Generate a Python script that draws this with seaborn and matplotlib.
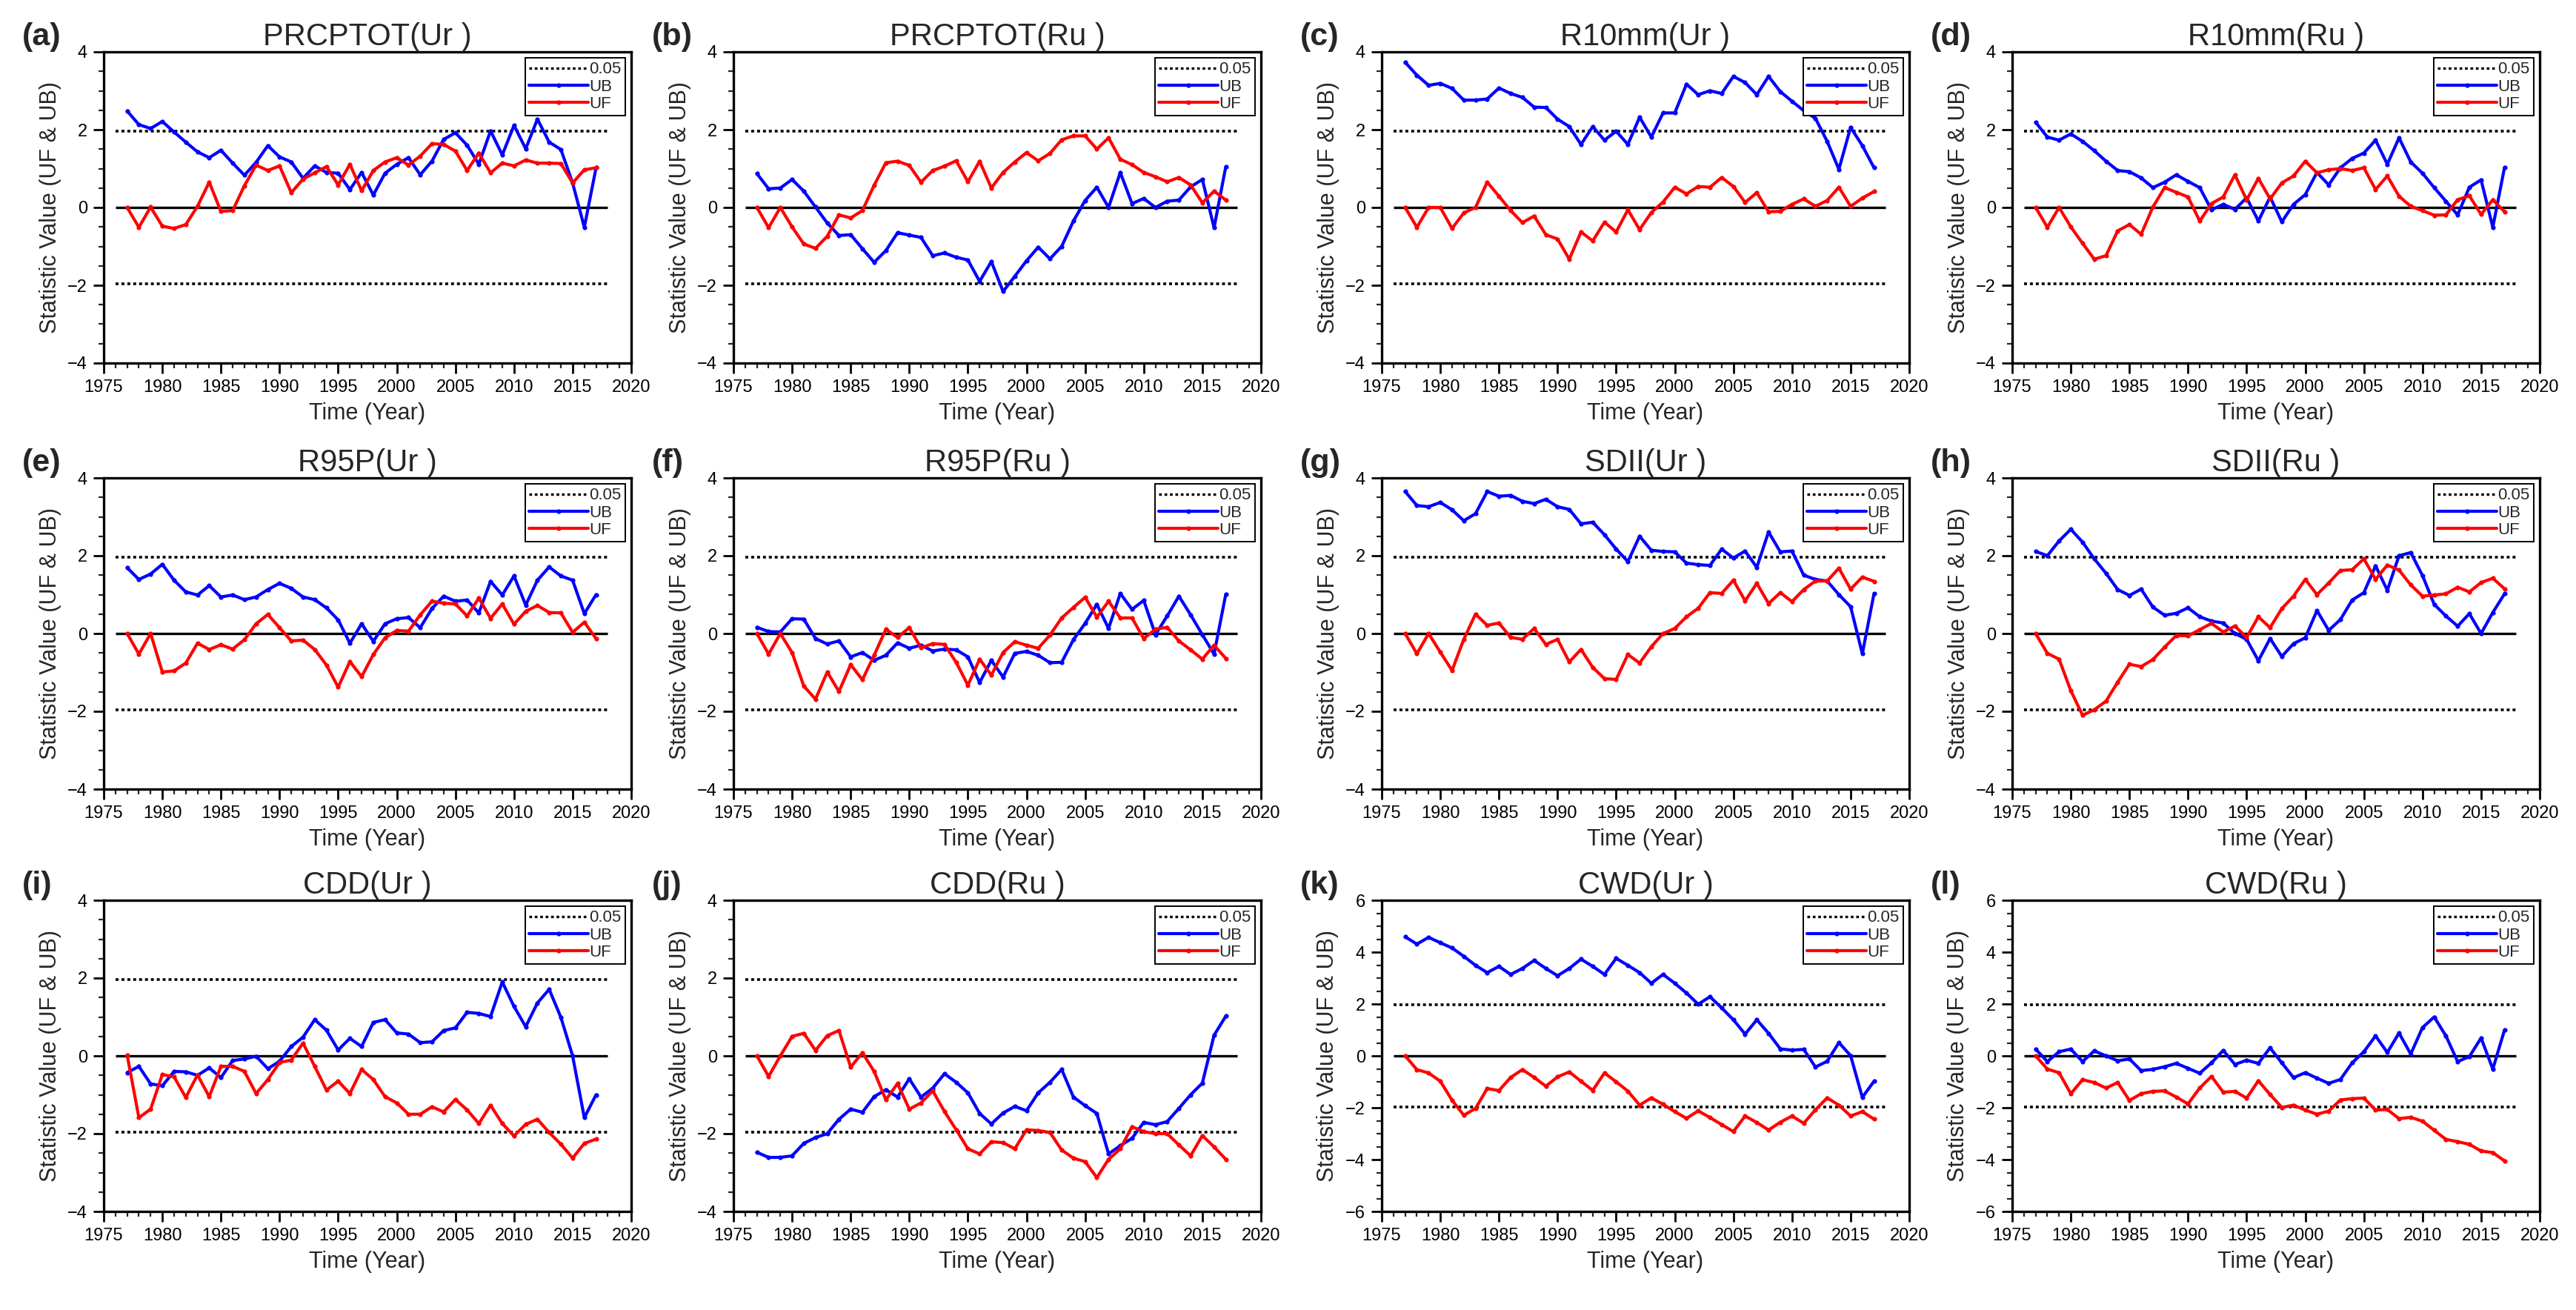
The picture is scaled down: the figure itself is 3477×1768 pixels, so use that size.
import numpy as np
import pandas as pd
import matplotlib
matplotlib.use("Agg")
import matplotlib.pyplot as plt
from matplotlib.lines import Line2D
from matplotlib.ticker import MultipleLocator
import seaborn as sns

years = list(range(1977, 2018))

ub_a = [2.48, 2.13, 2.03, 2.21, 1.94, 1.68, 1.43, 1.28, 1.47, 1.14, 0.83, 1.16, 1.59, 1.30, 1.17, 0.75, 1.07, 0.90, 0.88, 0.46, 0.90, 0.32, 0.88, 1.11, 1.28, 0.84, 1.19, 1.75, 1.92, 1.60, 1.11, 1.97, 1.35, 2.11, 1.51, 2.27, 1.68, 1.49, 0.63, -0.51, 1.02]
uf_a = [0.00, -0.51, 0.01, -0.48, -0.54, -0.44, 0.03, 0.65, -0.10, -0.08, 0.56, 1.09, 0.95, 1.07, 0.38, 0.73, 0.89, 1.05, 0.58, 1.11, 0.43, 0.95, 1.17, 1.28, 1.09, 1.32, 1.64, 1.62, 1.45, 0.95, 1.40, 0.89, 1.14, 1.07, 1.22, 1.14, 1.14, 1.13, 0.63, 0.97, 1.02]

ub_b = [0.87, 0.48, 0.50, 0.72, 0.42, 0.01, -0.40, -0.72, -0.70, -1.06, -1.41, -1.11, -0.65, -0.71, -0.77, -1.24, -1.17, -1.28, -1.35, -1.90, -1.39, -2.16, -1.77, -1.37, -1.02, -1.32, -1.00, -0.35, 0.18, 0.52, 0.00, 0.90, 0.10, 0.23, 0.00, 0.16, 0.19, 0.53, 0.72, -0.52, 1.05]
uf_b = [0.00, -0.52, 0.00, -0.50, -0.94, -1.05, -0.74, -0.19, -0.27, -0.08, 0.57, 1.15, 1.19, 1.08, 0.65, 0.95, 1.06, 1.20, 0.66, 1.19, 0.50, 0.90, 1.17, 1.41, 1.20, 1.39, 1.74, 1.84, 1.84, 1.50, 1.79, 1.24, 1.10, 0.90, 0.79, 0.66, 0.77, 0.58, 0.12, 0.42, 0.19]

ub_c = [3.73, 3.40, 3.14, 3.19, 3.06, 2.76, 2.76, 2.79, 3.07, 2.93, 2.83, 2.58, 2.57, 2.27, 2.08, 1.62, 2.08, 1.73, 1.96, 1.62, 2.32, 1.81, 2.43, 2.43, 3.17, 2.90, 3.00, 2.93, 3.37, 3.21, 2.90, 3.37, 2.98, 2.73, 2.49, 2.29, 1.70, 0.98, 2.06, 1.59, 1.02]
uf_c = [0.00, -0.51, 0.00, 0.00, -0.54, -0.14, 0.00, 0.65, 0.29, -0.08, -0.39, -0.22, -0.70, -0.81, -1.33, -0.63, -0.86, -0.38, -0.63, -0.06, -0.57, -0.13, 0.14, 0.52, 0.35, 0.54, 0.52, 0.77, 0.54, 0.13, 0.38, -0.11, -0.10, 0.08, 0.22, 0.03, 0.18, 0.52, 0.03, 0.24, 0.41]

ub_d = [2.19, 1.81, 1.73, 1.89, 1.70, 1.46, 1.19, 0.95, 0.92, 0.76, 0.51, 0.65, 0.84, 0.67, 0.51, -0.06, 0.08, -0.05, 0.25, -0.35, 0.27, -0.37, 0.08, 0.33, 0.90, 0.58, 1.02, 1.26, 1.40, 1.73, 1.11, 1.79, 1.17, 0.88, 0.51, 0.16, -0.19, 0.52, 0.71, -0.51, 1.03]
uf_d = [0.00, -0.51, 0.00, -0.50, -0.92, -1.33, -1.24, -0.60, -0.44, -0.69, 0.01, 0.51, 0.39, 0.27, -0.35, 0.10, 0.27, 0.84, 0.19, 0.75, 0.22, 0.63, 0.81, 1.19, 0.89, 0.97, 1.00, 0.95, 1.02, 0.46, 0.81, 0.29, 0.03, -0.08, -0.20, -0.19, 0.20, 0.30, -0.18, 0.20, -0.11]

ub_e = [1.69, 1.39, 1.53, 1.78, 1.37, 1.07, 0.99, 1.23, 0.94, 0.99, 0.87, 0.94, 1.13, 1.29, 1.16, 0.94, 0.87, 0.66, 0.35, -0.25, 0.25, -0.20, 0.25, 0.38, 0.41, 0.15, 0.64, 0.96, 0.83, 0.86, 0.53, 1.34, 0.99, 1.48, 0.73, 1.37, 1.71, 1.48, 1.37, 0.51, 1.00]
uf_e = [0.00, -0.53, 0.00, -0.99, -0.96, -0.76, -0.25, -0.41, -0.29, -0.40, -0.16, 0.25, 0.49, 0.15, -0.19, -0.17, -0.41, -0.81, -1.38, -0.72, -1.11, -0.54, -0.11, 0.08, 0.06, 0.48, 0.83, 0.78, 0.76, 0.45, 0.91, 0.39, 0.76, 0.24, 0.57, 0.72, 0.54, 0.53, 0.03, 0.29, -0.13]

ub_f = [0.16, 0.05, 0.04, 0.38, 0.37, -0.13, -0.27, -0.19, -0.60, -0.49, -0.69, -0.56, -0.24, -0.38, -0.30, -0.45, -0.40, -0.42, -0.60, -1.26, -0.69, -1.12, -0.51, -0.46, -0.56, -0.75, -0.74, -0.16, 0.26, 0.75, 0.13, 1.03, 0.62, 0.85, -0.03, 0.45, 0.96, 0.48, -0.03, -0.53, 1.01]
uf_f = [0.00, -0.53, 0.00, -0.49, -1.35, -1.69, -0.99, -1.49, -0.80, -1.19, -0.56, 0.11, -0.10, 0.15, -0.37, -0.26, -0.28, -0.74, -1.33, -0.66, -1.07, -0.49, -0.21, -0.30, -0.38, -0.04, 0.40, 0.67, 0.93, 0.42, 0.83, 0.40, 0.40, -0.13, 0.11, 0.16, -0.19, -0.42, -0.66, -0.30, -0.64]

ub_g = [3.65, 3.29, 3.26, 3.37, 3.18, 2.90, 3.08, 3.65, 3.53, 3.55, 3.40, 3.34, 3.45, 3.26, 3.19, 2.82, 2.86, 2.54, 2.17, 1.85, 2.50, 2.14, 2.11, 2.10, 1.81, 1.77, 1.75, 2.17, 1.94, 2.12, 1.70, 2.61, 2.10, 2.12, 1.50, 1.39, 1.35, 1.00, 0.69, -0.52, 1.03]
uf_g = [0.00, -0.52, 0.00, -0.48, -0.95, -0.15, 0.50, 0.21, 0.27, -0.10, -0.15, 0.13, -0.28, -0.15, -0.73, -0.41, -0.87, -1.16, -1.18, -0.54, -0.76, -0.34, 0.00, 0.13, 0.43, 0.65, 1.05, 1.03, 1.37, 0.84, 1.29, 0.77, 1.05, 0.82, 1.13, 1.35, 1.35, 1.68, 1.14, 1.45, 1.34]

ub_h = [2.11, 2.00, 2.38, 2.68, 2.35, 1.92, 1.55, 1.13, 0.98, 1.14, 0.68, 0.47, 0.52, 0.66, 0.43, 0.32, 0.27, 0.00, -0.15, -0.70, -0.13, -0.59, -0.26, -0.11, 0.59, 0.08, 0.36, 0.86, 1.05, 1.74, 1.11, 2.00, 2.08, 1.49, 0.75, 0.45, 0.19, 0.51, 0.00, 0.54, 1.02]
uf_h = [0.00, -0.51, -0.66, -1.47, -2.10, -1.96, -1.74, -1.25, -0.79, -0.85, -0.67, -0.35, -0.05, -0.06, 0.10, 0.26, 0.04, 0.19, -0.10, 0.43, 0.15, 0.64, 0.96, 1.39, 1.00, 1.30, 1.62, 1.64, 1.92, 1.39, 1.76, 1.63, 1.25, 0.96, 0.99, 1.02, 1.19, 1.07, 1.31, 1.42, 1.15]

ub_i = [-0.43, -0.27, -0.72, -0.77, -0.40, -0.41, -0.50, -0.31, -0.56, -0.12, -0.08, -0.01, -0.33, -0.14, 0.24, 0.48, 0.93, 0.66, 0.15, 0.45, 0.24, 0.86, 0.93, 0.59, 0.56, 0.34, 0.36, 0.65, 0.72, 1.12, 1.09, 1.01, 1.90, 1.27, 0.75, 1.36, 1.71, 0.99, 0.00, -1.59, -1.00]
uf_i = [0.02, -1.59, -1.37, -0.48, -0.54, -1.07, -0.49, -1.05, -0.27, -0.27, -0.40, -0.97, -0.61, -0.17, -0.11, 0.33, -0.27, -0.88, -0.65, -0.97, -0.35, -0.61, -1.05, -1.21, -1.50, -1.50, -1.31, -1.44, -1.12, -1.39, -1.74, -1.27, -1.74, -2.06, -1.76, -1.63, -1.97, -2.27, -2.63, -2.25, -2.14]

ub_j = [-2.48, -2.61, -2.61, -2.57, -2.25, -2.10, -2.00, -1.63, -1.37, -1.45, -1.05, -0.87, -1.06, -0.59, -1.06, -0.83, -0.46, -0.68, -0.95, -1.48, -1.75, -1.47, -1.30, -1.41, -0.95, -0.68, -0.35, -1.06, -1.28, -1.48, -2.52, -2.31, -2.12, -1.71, -1.77, -1.69, -1.35, -1.00, -0.70, 0.53, 1.02]
uf_j = [0.00, -0.53, 0.00, 0.50, 0.58, 0.14, 0.52, 0.65, -0.29, 0.08, -0.40, -1.13, -0.71, -1.37, -1.21, -0.90, -1.43, -1.90, -2.39, -2.52, -2.21, -2.23, -2.39, -1.90, -1.92, -1.97, -2.42, -2.63, -2.72, -3.13, -2.66, -2.39, -1.82, -1.95, -2.00, -2.00, -2.29, -2.57, -2.05, -2.34, -2.66]

ub_k = [4.59, 4.31, 4.57, 4.36, 4.16, 3.84, 3.49, 3.21, 3.45, 3.14, 3.37, 3.68, 3.37, 3.09, 3.37, 3.73, 3.45, 3.14, 3.76, 3.49, 3.21, 2.80, 3.14, 2.80, 2.42, 1.99, 2.28, 1.85, 1.39, 0.84, 1.39, 0.87, 0.27, 0.22, 0.25, -0.43, -0.21, 0.51, 0.01, -1.60, -0.98]
uf_k = [0.00, -0.53, -0.66, -0.98, -1.71, -2.29, -2.03, -1.26, -1.34, -0.83, -0.53, -0.83, -1.17, -0.81, -0.62, -0.98, -1.33, -0.66, -1.00, -1.36, -1.90, -1.62, -1.87, -2.15, -2.41, -2.12, -2.38, -2.65, -2.92, -2.32, -2.57, -2.86, -2.56, -2.32, -2.60, -2.08, -1.62, -1.90, -2.32, -2.15, -2.44]

ub_l = [0.26, -0.22, 0.16, 0.26, -0.22, 0.19, 0.00, -0.19, -0.12, -0.57, -0.52, -0.42, -0.29, -0.48, -0.67, -0.27, 0.21, -0.33, -0.17, -0.29, 0.31, -0.27, -0.84, -0.65, -0.86, -1.06, -0.91, -0.27, 0.16, 0.77, 0.13, 0.88, 0.07, 1.09, 1.50, 0.77, -0.22, -0.03, 0.69, -0.51, 1.00]
uf_l = [0.00, -0.51, -0.65, -1.46, -0.92, -1.03, -1.24, -1.03, -1.72, -1.46, -1.37, -1.35, -1.59, -1.85, -1.24, -0.79, -1.40, -1.37, -1.63, -0.96, -1.49, -1.99, -1.90, -2.09, -2.25, -2.13, -1.70, -1.65, -1.63, -2.09, -2.07, -2.42, -2.37, -2.52, -2.87, -3.22, -3.31, -3.41, -3.67, -3.73, -4.05]

panel_letters = ["(a)", "(b)", "(c)", "(d)", "(e)", "(f)", "(g)", "(h)", "(i)", "(j)", "(k)", "(l)"]
panel_titles = ["PRCPTOT(Ur )", "PRCPTOT(Ru )", "R10mm(Ur )", "R10mm(Ru )",
                "R95P(Ur )", "R95P(Ru )", "SDII(Ur )", "SDII(Ru )",
                "CDD(Ur )", "CDD(Ru )", "CWD(Ur )", "CWD(Ru )"]
ub_all = [ub_a, ub_b, ub_c, ub_d, ub_e, ub_f, ub_g, ub_h, ub_i, ub_j, ub_k, ub_l]
uf_all = [uf_a, uf_b, uf_c, uf_d, uf_e, uf_f, uf_g, uf_h, uf_i, uf_j, uf_k, uf_l]
y_limits = [4, 4, 4, 4, 4, 4, 4, 4, 4, 4, 6, 6]
x_ticks = [1975, 1980, 1985, 1990, 1995, 2000, 2005, 2010, 2015, 2020]
crit = 1.96

sns.set_theme(style="ticks")
plt.rcParams['font.family'] = ['Liberation Sans', 'DejaVu Sans']
plt.rcParams['axes.linewidth'] = 2.4

W, H = 3477, 1768
fig = plt.figure(figsize=(W / 100, H / 100), dpi=100, facecolor='white')

lefts = [140, 990, 1865, 2716]
tops = [70, 645, 1215]
aw, ah = 712, 420

blue = '#0000FF'
red = '#FF0000'
lw = 3.0

for k in range(12):
    r, c = divmod(k, 4)
    ax = fig.add_axes([lefts[c] / W, 1 - (tops[r] + ah) / H, aw / W, ah / H])
    ax.set_facecolor('white')
    df = pd.DataFrame({'Year': years, 'UB': ub_all[k], 'UF': uf_all[k]})
    ax.hlines([crit, -crit], 1976, 2018, colors='black', linestyles=(0, (1.1, 1.1)), linewidth=2.6)
    ax.hlines([0], 1976, 2018, colors='black', linewidth=2.4)
    sns.lineplot(data=df, x='Year', y='UB', ax=ax, color=blue, linewidth=lw,
                 marker='o', markersize=4.5, markeredgewidth=0)
    sns.lineplot(data=df, x='Year', y='UF', ax=ax, color=red, linewidth=lw,
                 marker='o', markersize=4.5, markeredgewidth=0)
    yl = y_limits[k]
    ax.set_xlim(1975, 2020)
    ax.set_ylim(-yl, yl)
    ax.set_xticks(x_ticks)
    ax.set_yticks(list(range(-yl, yl + 1, 2)))
    ax.xaxis.set_minor_locator(MultipleLocator(1))
    ax.yaxis.set_minor_locator(MultipleLocator(0.5))
    ax.tick_params(axis='both', which='major', direction='out', length=10, width=2.0,
                   labelsize=17, colors='black', pad=6)
    ax.tick_params(axis='both', which='minor', direction='out', length=5, width=1.6)
    ax.set_xlabel('Time (Year)', fontsize=22, labelpad=6)
    ax.set_ylabel('Statistic Value (UF & UB)', fontsize=22, labelpad=6)
    for sp in ax.spines.values():
        sp.set_visible(True)
        sp.set_color('black')
        sp.set_linewidth(2.4)
    ax.set_title(panel_titles[k], fontsize=30, pad=5)
    ax.text(-110 / aw, 1.0, panel_letters[k], transform=ax.transAxes, fontsize=31,
            ha='left', va='bottom', fontweight='bold')
    handles = [Line2D([], [], color='black', linestyle=(0, (1.1, 1.1)), linewidth=2.4),
               Line2D([], [], color=blue, linewidth=lw, marker='o', markersize=4.5, markeredgewidth=0),
               Line2D([], [], color=red, linewidth=lw, marker='o', markersize=4.5, markeredgewidth=0)]
    leg = ax.legend(handles, ['0.05', 'UB', 'UF'], loc='upper right', fontsize=16,
                    handlelength=3.6, handletextpad=0.05, labelspacing=0.1,
                    borderpad=0.25, borderaxespad=0.35, frameon=True, fancybox=False,
                    framealpha=1, edgecolor='black')
    leg.get_frame().set_linewidth(1.4)

fig.savefig('out.png', dpi=100, facecolor='white')
